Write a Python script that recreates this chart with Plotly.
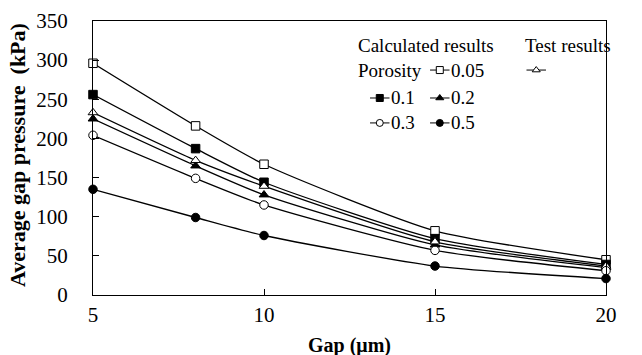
import plotly.graph_objects as go

# Gap widths (um)
gap = [5, 8, 10, 15, 20]

# Calculated average gap pressure (kPa) for each porosity
p_005 = [296, 216, 167, 82, 45]
p_01 = [256, 187, 144, 72, 39]
p_02 = [225, 165, 128, 64, 35]
p_03 = [204, 149, 115, 57, 31]
p_05 = [135, 99, 76, 37, 21]

# Measured average gap pressure (kPa)
p_test = [233, 172, 139, 68, 37]

x_ticks = [5, 10, 15, 20]
y_ticks = [0, 50, 100, 150, 200, 250, 300, 350]

FONT = "Liberation Serif, Times New Roman, serif"
BLACK = "#000000"

series = [
    (p_005, "square", "white"),
    (p_01, "square", BLACK),
    (p_02, "triangle-up", BLACK),
    (p_test, "triangle-up", "white"),
    (p_03, "circle", "white"),
    (p_05, "circle", BLACK),
]

fig = go.Figure()
for vals, sym, fill in series:
    fig.add_trace(go.Scatter(
        x=gap, y=vals, mode="lines+markers",
        line=dict(color=BLACK, width=1.3, shape="spline", smoothing=0.6),
        marker=dict(symbol=sym, size=8.5, color=fill,
                    line=dict(color=BLACK, width=1)),
        cliponaxis=False, showlegend=False,
    ))

# Legend key samples drawn on a hidden overlay axis (0..1 in both directions)
HALF = 0.019
keys = [
    (0.676, 0.821, "square", "white"),
    (0.559, 0.719, "square", BLACK),
    (0.676, 0.719, "triangle-up", BLACK),
    (0.559, 0.628, "circle", "white"),
    (0.676, 0.628, "circle", BLACK),
    (0.864, 0.821, "triangle-up", "white"),
]
for kx, ky, sym, fill in keys:
    fig.add_trace(go.Scatter(
        x=[kx - HALF, kx + HALF], y=[ky, ky], mode="lines",
        line=dict(color=BLACK, width=1), xaxis="x2", yaxis="y2",
        showlegend=False, hoverinfo="skip",
    ))
    fig.add_trace(go.Scatter(
        x=[kx], y=[ky], mode="markers",
        marker=dict(symbol=sym, size=7, color=fill, line=dict(color=BLACK, width=1)),
        xaxis="x2", yaxis="y2", showlegend=False, hoverinfo="skip",
    ))

def txt(x, y, s):
    return dict(x=x, y=y, xref="paper", yref="paper", text=s, showarrow=False,
                xanchor="left", yanchor="middle",
                font=dict(family=FONT, size=19, color=BLACK))

annotations = [
    txt(0.512, 0.912, "Calculated results"),
    txt(0.839, 0.912, "Test results"),
    txt(0.512, 0.821, "Porosity"),
    txt(0.694, 0.821, "0.05"),
    txt(0.577, 0.719, "0.1"),
    txt(0.694, 0.719, "0.2"),
    txt(0.577, 0.628, "0.3"),
    txt(0.694, 0.628, "0.5"),
    # axis titles
    dict(x=0.5, y=-0.185, xref="paper", yref="paper", showarrow=False,
         text="<b>Gap (μm)</b>", xanchor="center", yanchor="middle",
         font=dict(family=FONT, size=20, color=BLACK)),
    dict(x=-0.146, y=0.511, xref="paper", yref="paper", showarrow=False,
         text="<b>Average gap pressure  (kPa)</b>", textangle=-90,
         xanchor="center", yanchor="middle",
         font=dict(family=FONT, size=22, color=BLACK)),
]

fig.update_layout(
    width=642, height=355,
    margin=dict(l=93, r=36, t=21, b=60),
    plot_bgcolor="white", paper_bgcolor="white",
    font=dict(family=FONT, size=20, color=BLACK),
    annotations=annotations,
    xaxis=dict(
        range=[5, 20], tickvals=x_ticks, ticks="inside", ticklen=6,
        tickcolor=BLACK, tickwidth=1, showgrid=False, zeroline=False,
        showline=True, linecolor=BLACK, linewidth=1.3, mirror=True,
        tickfont=dict(family=FONT, size=21), ticklabelstandoff=1,
        automargin=False,
    ),
    yaxis=dict(
        range=[0, 350], tickvals=y_ticks, ticks="inside", ticklen=6,
        tickcolor=BLACK, tickwidth=1, showgrid=False, zeroline=False,
        showline=True, linecolor=BLACK, linewidth=1.3, mirror=True,
        tickfont=dict(family=FONT, size=21), ticklabelstandoff=20,
        automargin=False,
    ),
    xaxis2=dict(range=[0, 1], overlaying="x", visible=False, fixedrange=True),
    yaxis2=dict(range=[0, 1], overlaying="y", visible=False, fixedrange=True),
)

fig.write_html("out.html")
